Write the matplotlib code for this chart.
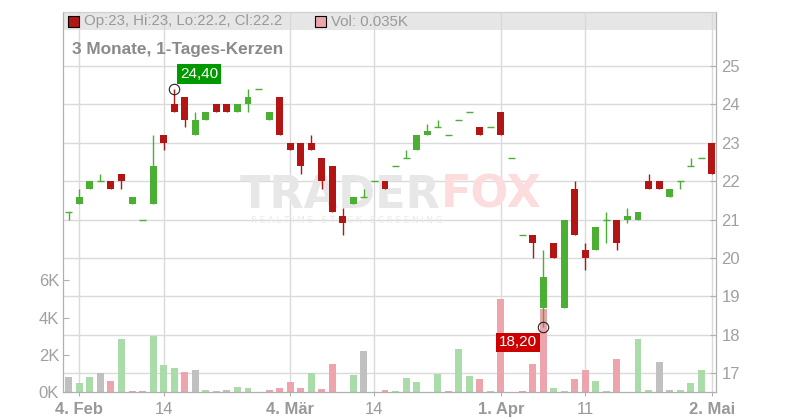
import numpy as np
import matplotlib
matplotlib.use('Agg')
import matplotlib.pyplot as plt
from matplotlib.patches import Rectangle

plt.rcParams['font.family'] = ['Liberation Sans', 'DejaVu Sans']

# Datos de las velas (un valor por dia de negociacion)
apertura = [21.2, 21.4, 21.8, 22.0, 22.0, 22.2, 21.4, 21.0, 21.4, 23.2,
            24.0, 24.2, 23.2, 23.6, 24.0, 24.0, 23.8, 24.0, 24.4, 23.6,
            24.2, 23.0, 23.0, 23.0, 22.6, 22.4, 21.1, 21.4, 21.6, 22.0,
            22.0, 22.4, 22.6, 22.8, 23.2, 23.4, 23.2, 23.6, 23.8, 23.4,
            23.4, 23.8, 22.6, 20.6, 20.6, 18.7, 20.4, 18.7, 21.8, 20.2,
            20.2, 21.0, 21.0, 21.0, 21.0, 22.0, 22.0, 21.6, 22.0, 22.4,
            22.6, 23.0]
maximo = [21.2, 21.8, 22.0, 22.2, 22.0, 22.2, 21.6, 21.0, 23.2, 23.2,
          24.4, 24.2, 23.8, 23.8, 24.0, 24.0, 24.0, 24.4, 24.4, 23.8,
          24.2, 23.0, 23.0, 23.2, 22.6, 22.4, 21.3, 21.6, 21.8, 22.0,
          22.0, 22.4, 22.8, 23.2, 23.5, 23.6, 23.2, 23.6, 23.8, 23.4,
          23.4, 23.8, 22.6, 20.6, 20.6, 20.2, 20.4, 21.0, 22.0, 20.4,
          20.8, 21.2, 21.0, 21.3, 21.2, 22.2, 22.0, 21.8, 22.0, 22.6,
          22.6, 23.0]
minimo = [21.0, 21.4, 21.8, 22.0, 21.8, 21.8, 21.4, 21.0, 21.4, 22.8,
          23.8, 23.4, 23.2, 23.6, 23.8, 23.8, 23.8, 23.8, 24.4, 23.6,
          23.2, 22.8, 22.2, 22.8, 21.8, 21.2, 20.6, 21.4, 21.6, 22.0,
          21.8, 22.4, 22.6, 22.8, 23.2, 23.4, 23.2, 23.6, 23.8, 23.2,
          23.4, 23.2, 22.6, 20.6, 20.0, 18.2, 20.0, 18.7, 20.6, 19.7,
          20.2, 20.4, 20.2, 20.9, 21.0, 21.8, 21.8, 21.6, 21.8, 22.4,
          22.6, 22.2]
cierre = [21.2, 21.6, 22.0, 22.0, 21.8, 22.0, 21.6, 21.0, 22.4, 23.0,
          23.8, 23.6, 23.6, 23.8, 23.8, 23.8, 24.0, 24.2, 24.4, 23.8,
          23.2, 22.8, 22.4, 22.8, 22.0, 21.2, 20.9, 21.6, 21.6, 22.0,
          21.8, 22.4, 22.6, 23.2, 23.3, 23.4, 23.2, 23.6, 23.8, 23.2,
          23.4, 23.2, 22.6, 20.6, 20.4, 19.5, 20.0, 21.0, 20.6, 20.0,
          20.8, 21.0, 20.4, 21.1, 21.2, 21.8, 21.8, 21.8, 22.0, 22.4,
          22.6, 22.2]
# Volumen en miles (K)
volumen = [0.82, 0.5, 0.82, 1.04, 0.61, 2.86, 0.07, 0.07, 3.02, 1.46,
           1.3, 1.09, 1.2, 0.125, 0.07, 0.125, 0.29, 0.23, 0.0, 0.125,
           0.23, 0.55, 0.23, 1.04, 0.18, 1.52, 0.0, 0.93, 2.21, 0.0,
           0.125, 0.07, 0.77, 0.55, 0.0, 0.98, 0.07, 2.32, 0.875, 0.71,
           0.07, 5.0, 0.0, 0.07, 1.52, 4.46, 0.23, 0.07, 0.71, 1.2,
           0.61, 0.07, 1.79, 0.0, 2.86, 0.125, 1.63, 0.125, 0.125, 0.5,
           1.2, 0.035]

# Etiquetas del eje x (indice del dia, texto, negrita)
pos_fechas = [1, 9, 21, 29, 41, 49, 61]
txt_fechas = ['4. Feb', '14', '4. Mär', '14', '1. Apr', '11', '2. Mai']
mes_fechas = [True, False, True, False, True, False, True]

precio_ticks = [17, 18, 19, 20, 21, 22, 23, 24, 25]
vol_ticks = [0, 2, 4, 6]
vol_labels = ['0K', '2K', '4K', '6K']

# Marcas de maximo y minimo
idx_max, val_max = 10, 24.4
idx_min, val_min = 45, 18.2

verde = '#4aaf32'
rojo = '#b31515'
vol_verde = '#a9dca8'
vol_rojo = '#eda4ac'
vol_gris = '#c0c0c0'
gris_txt = '#a0a0a0'
gris_grid = '#dadada'

x = np.arange(len(cierre))
o = np.array(apertura)
h = np.array(maximo)
l = np.array(minimo)
c = np.array(cierre)

fig = plt.figure(figsize=(8, 4.2), dpi=100)
ax = fig.add_axes([63.3 / 800, 1 - 392.3 / 420, (716 - 63.3) / 800, 380.6 / 420])
ax2 = ax.twinx()

xmin, xmax = -0.52, 61.4
pmin, pmax = 16.507, 26.41
ax.set_xlim(xmin, xmax)
ax.set_ylim(0, 20.39)
ax2.set_ylim(pmin, pmax)

# Banda gris de la leyenda
ax.add_patch(Rectangle((0, (392.3 - 30) / 380.6), 1, 1 - (392.3 - 30) / 380.6,
                       transform=ax.transAxes, facecolor='#e6e6e6', edgecolor='none', zorder=0))

# Rejilla (debajo del volumen)
for p in precio_ticks:
    f = (p - pmin) / (pmax - pmin)
    ax.plot([0, 1], [f, f], transform=ax.transAxes, color=gris_grid, lw=1, zorder=0.5)
for p in pos_fechas:
    ax.axvline(p, color=gris_grid, lw=1, zorder=0.5)

# Marca de agua
ax.text(240 / 800, 1 - 208 / 420, 'TRADER', transform=fig.transFigure, family='DejaVu Sans',
        fontweight='bold', fontsize=32, color='#e7e7e7', va='baseline', zorder=0.6)
ax.text(441 / 800, 1 - 208 / 420, 'FOX', transform=fig.transFigure, family='DejaVu Sans',
        fontweight='bold', fontsize=32, color='#fcdcdc', va='baseline', zorder=0.6)
ax.text(251 / 800, 1 - 223 / 420, 'R E A L T I M E   S T O C K   S C R E E N I N G',
        transform=fig.transFigure, family='DejaVu Sans', fontsize=6.2, color='#e9e9e9',
        va='baseline', zorder=0.6)

# Volumen: color segun cierre anterior
col_vol = []
for i in range(len(c)):
    if i == 0 or c[i] == c[i - 1]:
        col_vol.append(vol_gris)
    elif c[i] > c[i - 1]:
        col_vol.append(vol_verde)
    else:
        col_vol.append(vol_rojo)
ax.bar(x, volumen, width=0.66, color=col_vol, zorder=1)

# Velas
w = 0.66
col_vela = np.where(c >= o, verde, rojo)
ax2.vlines(x, l, h, color=col_vela, lw=1.0, zorder=2)
cuerpo = c != o
ax2.bar(x[cuerpo], np.abs(c - o)[cuerpo], bottom=np.minimum(o, c)[cuerpo], width=w,
        color=col_vela[cuerpo], zorder=3)
ax2.hlines(c[~cuerpo], x[~cuerpo] - w / 2, x[~cuerpo] + w / 2, color=col_vela[~cuerpo],
           lw=1.0, zorder=3)

# Circulos y etiquetas de maximo/minimo
ax2.plot([idx_max, idx_min], [val_max, val_min], 'o', mfc='none', mec='#222222', ms=7.5,
         mew=0.8, zorder=5)
ax2.annotate(f'{val_max:.2f}'.replace('.', ','), xy=(idx_max, val_max), xytext=(4.2, 5.6),
             textcoords='offset points', ha='left', va='bottom', color='white', fontsize=11,
             bbox=dict(boxstyle='square,pad=0.18', fc='#009a00', ec='none'), zorder=6)
ax2.annotate(f'{val_min:.2f}'.replace('.', ','), xy=(idx_min, val_min), xytext=(-4.5, -5.8),
             textcoords='offset points', ha='right', va='top', color='white', fontsize=11,
             bbox=dict(boxstyle='square,pad=0.18', fc='#cc0000', ec='none'), zorder=6)

# Ejes
ax.set_xticks(pos_fechas)
ax.set_xticklabels(txt_fechas)
for t, negrita in zip(ax.get_xticklabels(), mes_fechas):
    t.set_fontweight('bold' if negrita else 'normal')
ax.tick_params(axis='x', direction='out', length=3, pad=4, colors='#b0b0b0',
               labelcolor='#999999', labelsize=12)
ax.set_yticks(vol_ticks)
ax.set_yticklabels(vol_labels)
ax.tick_params(axis='y', direction='in', length=4, pad=3, colors='#b0b0b0',
               labelcolor=gris_txt, labelsize=12)
ax2.set_yticks(precio_ticks)
ax2.tick_params(axis='y', direction='in', length=4, pad=4, colors='#b0b0b0',
                labelcolor=gris_txt, labelsize=12)
for a in (ax, ax2):
    for s in ['left', 'right', 'bottom']:
        a.spines[s].set_color('#b0b0b0')
    a.spines['top'].set_color('#d0d0d0')

# Leyenda superior y titulo
fig.patches.append(Rectangle((68 / 800, 1 - 27 / 420), 10.5 / 800, 10.5 / 420,
                             transform=fig.transFigure, fc=rojo, ec='black', lw=0.8, zorder=5))
fig.text(84 / 800, 1 - 21.5 / 420,
         f'Op:{apertura[-1]:g}, Hi:{maximo[-1]:g}, Lo:{minimo[-1]:g}, Cl:{cierre[-1]:g}',
         fontsize=10.8, color='#999999', va='center')
fig.patches.append(Rectangle((315 / 800, 1 - 27 / 420), 10.5 / 800, 10.5 / 420,
                             transform=fig.transFigure, fc=vol_rojo, ec='black', lw=0.8, zorder=5))
fig.text(331 / 800, 1 - 21.5 / 420, f'Vol: {volumen[-1]:.3f}K', fontsize=10.8,
         color='#999999', va='center')
fig.text(72.5 / 800, 1 - 54 / 420, '3 Monate, 1-Tages-Kerzen', fontsize=12.4,
         fontweight='bold', color='#8a8a8a', va='baseline')

fig.savefig('out.png', dpi=100)
